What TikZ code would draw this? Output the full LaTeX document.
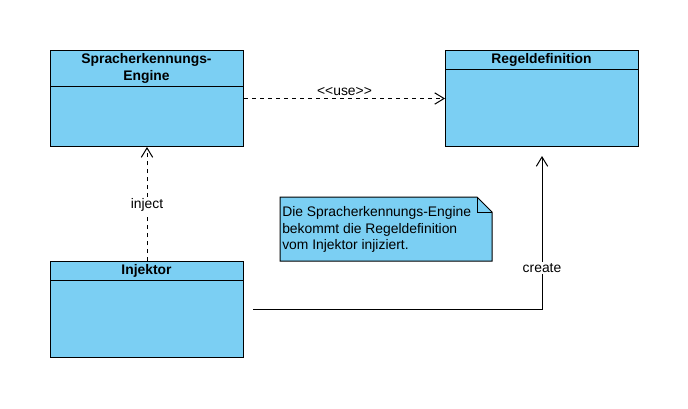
\documentclass[tikz,border=0pt]{standalone}
\usepackage{fontspec}
\setmainfont{Liberation Sans}
\usetikzlibrary{arrows.meta,calc}
\definecolor{clsblue}{HTML}{7BCFF3}
\begin{document}
\begin{tikzpicture}[x=0.75pt,y=-0.75pt,
  clsbox/.style={draw=black,fill=clsblue,line width=0.75pt,minimum width=144.75pt,minimum height=72pt,anchor=north west,inner sep=0pt},
  clstitle/.style={font=\fontsize{10.4pt}{12.8pt}\selectfont\bfseries,align=center,inner sep=0pt},
  lbl/.style={font=\fontsize{10.4pt}{12pt}\selectfont,inner sep=1pt},
  conn/.style={line width=0.75pt,-{Straight Barb[length=7pt,width=8.5pt,line width=0.75pt]}},
  dashconn/.style={conn,dash pattern=on 3pt off 3pt}]
\useasboundingbox (0,0) rectangle (688,408);
% class boxes
\node[clsbox] (sre) at (50,50) {};
\node[clsbox] (reg) at (445,50) {};
\node[clsbox] (inj) at (50,261) {};
% dividers
\draw[line width=0.75pt] (50,86) -- (243,86);
\draw[line width=0.75pt] (445,69.5) -- (638,69.5);
\draw[line width=0.75pt] (50,280) -- (243,280);
% titles
\node[clstitle] (sret) at (146.5,68) {Spracherkennungs-\\Engine};
\node[clstitle] (regt) at (541.5,59.5) {Regeldefinition};
\node[clstitle] (injt) at (146.5,270.5) {Injektor};
% note
\draw[line width=0.75pt,fill=clsblue] (280,197) -- (477,197) -- (492,212) -- (492,261) -- (280,261) -- cycle;
\draw[line width=0.75pt] (477,197) -- (477,212) -- (492,212);
\node[font=\fontsize{10.4pt}{12.4pt}\selectfont,align=left,anchor=west,inner sep=0pt] (note) at (282,229.5) {Die Spracherkennungs-Engine\\bekommt die Regeldefinition\\vom Injektor injiziert.};
% connectors
\draw[dashconn] (sre.east) -- (reg.west) node[midway,above=1pt,lbl] (uselbl) {<{}<use>{}>};
\draw[dashconn] (inj.north) -- (sre.south) node[pos=0.49,fill=white,lbl] (injlbl) {inject};
\coordinate (cstart) at ($(inj.east)+(6.75pt,0)$);
\coordinate (cend) at ($(reg.south)+(0,-6.75pt)$);
\draw[conn] (cstart) -| (cend) node[pos=0.635,fill=white,lbl] (crlbl) {create};
\end{tikzpicture}
\end{document}
